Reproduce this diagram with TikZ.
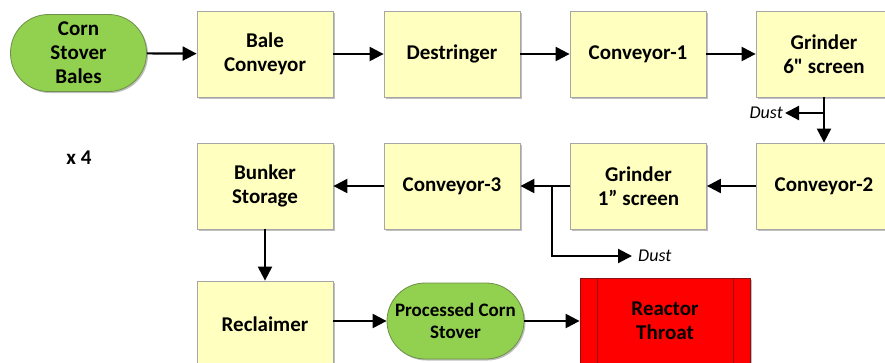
\documentclass[tikz,border=0pt]{standalone}
\usepackage{fontspec}
\newfontfamily\carlito{Carlito}
\usetikzlibrary{arrows.meta,shadows}

\definecolor{boxfill}{HTML}{FFFFC0}
\definecolor{boxedge}{HTML}{A6A6A6}
\definecolor{termfill}{HTML}{92D050}
\definecolor{termedge}{HTML}{6E8F4A}
\definecolor{hotfill}{HTML}{FF0000}
\definecolor{hotedge}{HTML}{8C1010}

\tikzset{
  boxshadow/.style={drop shadow={shadow xshift=1.5pt, shadow yshift=-1.5pt, opacity=0.25, fill=black}},
  procbox/.style={draw=boxedge, fill=boxfill, line width=0.8pt, minimum width=136pt,
    minimum height=86pt, align=center, inner sep=0pt, boxshadow},
  terminal/.style={draw=termedge, fill=termfill, line width=0.8pt, rounded corners=38pt,
    minimum width=136pt, minimum height=77pt, align=center, inner sep=0pt, boxshadow},
  hotbox/.style={draw=hotedge, fill=hotfill, line width=0.8pt, minimum width=170pt,
    minimum height=86pt, align=center, inner sep=0pt, boxshadow},
  flow/.style={line width=2.2pt, -{Triangle[length=14pt,width=14pt]}},
  dustlabel/.style={font=\carlito\fontsize{18}{21}\selectfont\itshape\mdseries, inner sep=2pt},
}

\begin{document}
\begin{tikzpicture}[x=1pt, y=-1pt, font=\carlito\fontsize{21}{24}\selectfont\bfseries]
\useasboundingbox (0,0) rectangle (885,362);
\clip (0,0) rectangle (885,362);

% first row
\node[terminal] (bales) at (78.5,53) {Corn\\Stover\\Bales};
\node[procbox] (bale)   at (265,54)  {Bale\\Conveyor};
\node[procbox] (destr)  at (452,54)  {Destringer};
\node[procbox] (conv1)  at (638,54)  {Conveyor-1};
\node[procbox] (grind6) at (824,54)  {Grinder\\6" screen};

% second row
\node[procbox] (conv2)  at (824,186) {Conveyor-2};
\node[procbox] (grind1) at (638.5,186) {Grinder\\1” screen};
\node[procbox] (conv3)  at (452,186) {Conveyor-3};
\node[procbox] (bunker) at (265,186) {Bunker\\Storage};

% third row
\node[procbox] (reclaim) at (265,324) {Reclaimer};
\node[terminal, font=\carlito\fontsize{19}{22}\selectfont\bfseries, minimum width=137pt, minimum height=76pt] (proc) at (455.5,321) {Processed Corn\\Stover};
\node[hotbox] (reactor) at (665,321) {Reactor\\Throat};
\draw[hotedge, line width=0.8pt]
  ([xshift=18pt]reactor.north west) -- ([xshift=18pt]reactor.south west)
  ([xshift=-17pt]reactor.north east) -- ([xshift=-17pt]reactor.south east);

\node (times) at (79,158) {x 4};

% main flow
\draw[flow] (bales) -- (bale);
\draw[flow] (bale) -- (destr);
\draw[flow] (destr) -- (conv1);
\draw[flow] (conv1) -- (grind6);
\draw[flow] (grind6) -- (conv2);
\draw[flow] (conv2) -- (grind1);
\draw[flow] (grind1) -- (conv3);
\draw[flow] (conv3) -- (bunker);
\draw[flow] (bunker) -- (reclaim);
\draw[flow] (reclaim.east |- proc) -- (proc);
\draw[flow] (proc) -- (reactor.west |- proc);

% dust off-takes
\coordinate (dust1) at (785,113);
\draw[flow] (grind6.south |- dust1) -- (dust1);
\node[dustlabel, anchor=east] (dusttxt1) at (dust1) {Dust};

\coordinate (tap) at (552,186);
\coordinate (dust2) at (632,256);
\draw[flow] (tap) |- (dust2);
\node[dustlabel, anchor=west] (dusttxt2) at ([xshift=4pt]dust2) {Dust};
\end{tikzpicture}
\end{document}
